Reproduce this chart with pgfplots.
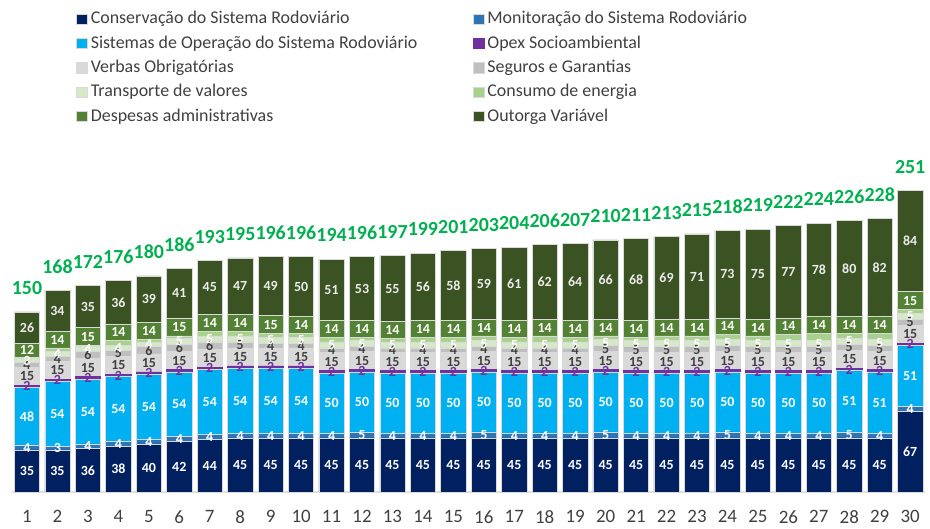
\documentclass[border=0pt]{standalone}
\usepackage{pgfplots}
\usepackage{pgfplotstable}
\pgfplotsset{compat=1.18}
\usepackage{fontspec}
\setmainfont{Carlito}

\definecolor{cCons}{HTML}{002060}
\definecolor{cMon}{HTML}{2E75B6}
\definecolor{cSist}{HTML}{00B0F0}
\definecolor{cOpex}{HTML}{7030A0}
\definecolor{cVerb}{HTML}{D9D9D9}
\definecolor{cSeg}{HTML}{BFBFBF}
\definecolor{cTrans}{HTML}{D5E8C8}
\definecolor{cEner}{HTML}{A9D18E}
\definecolor{cDesp}{HTML}{548235}
\definecolor{cOut}{HTML}{3B5323}
\definecolor{cTot}{HTML}{00B050}
\definecolor{cTxt}{HTML}{404040}

\pgfplotstableread{
x cons mon sist opex verb seg trans ener desp outo total
1  35 4 48 2 15 4 3 1 12 26 150
2  35 3 54 2 15 4 4 3 14 34 168
3  36 4 54 2 15 6 4 1 15 35 172
4  38 4 54 2 15 5 4 4 14 36 176
5  40 4 54 2 15 6 4 2 14 39 180
6  42 4 54 2 15 6 5 2 15 41 186
7  44 4 54 2 15 6 5 4 14 45 193
8  45 4 54 2 15 5 5 4 14 47 195
9  45 4 54 2 15 4 5 3 15 49 196
10 45 4 54 2 15 4 5 3 14 50 196
11 45 4 50 2 15 4 5 4 14 51 194
12 45 5 50 2 15 4 5 3 14 53 196
13 45 4 50 2 15 4 5 3 14 55 197
14 45 4 50 2 15 4 5 4 14 56 199
15 45 4 50 2 15 4 5 4 14 58 201
16 45 5 50 2 15 4 5 4 14 59 203
17 45 4 50 2 15 4 5 4 14 61 204
18 45 4 50 2 15 4 5 5 14 62 206
19 45 4 50 2 15 4 5 4 14 64 207
20 45 5 50 2 15 5 5 3 14 66 210
21 45 4 50 2 15 5 5 3 14 68 211
22 45 4 50 2 15 5 5 4 14 69 213
23 45 4 50 2 15 5 5 4 14 71 215
24 45 5 50 2 15 5 5 4 14 73 218
25 45 4 50 2 15 5 5 4 14 75 219
26 45 4 50 2 15 5 5 5 14 77 222
27 45 4 50 2 15 5 5 6 14 78 224
28 45 5 51 2 15 5 5 4 14 80 226
29 45 4 51 2 15 5 5 5 14 82 228
30 67 4 51 2 15 5 5 3 15 84 251
}\datatable

\pgfplotsset{
  common/.style={
    at={(11.8bp,37bp)}, anchor=south west,
    scale only axis, width=913.6bp, height=312bp,
    xmin=0.5, xmax=30.5, ymin=0, ymax=260,
    clip=false,
    /pgf/number format/assume math mode=true,
  },
  lab/.style={draw=none, mark=none, nodes near coords, point meta=explicit,
    every node near coord/.style={anchor=center, inner sep=0pt,
      font=\bfseries\fontsize{14}{14}\selectfont, text=#1}},
}

\begin{document}
\begin{tikzpicture}
\path[use as bounding box] (0,0) rectangle (930bp,529bp);
\begin{axis}[
  common,
  ybar stacked, bar width=25.3bp,
  axis x line*=bottom, axis y line=none,
  x axis line style={draw=black!12, line width=1.2bp},
  major tick length=0pt,
  xtick=data,
  xticklabel style={font=\fontsize{19}{19}\selectfont, text=cTxt, anchor=center, inner sep=0pt, yshift=-24.7bp},
  every axis plot/.append style={draw=white!85!black, line width=0.6bp},
  legend style={at={(0.0670,1.5487)}, anchor=north west, draw=none, fill=none,
    font=\fontsize{18}{18}\selectfont, text=cTxt,
    legend columns=2, row sep=7.3bp,
    /tikz/every odd column/.append style={column sep=3bp},
    nodes={inner sep=0bp, text height=13bp, text depth=4bp}},
  legend cell align=left,
  legend image code/.code={\fill[#1] (0bp,-5bp) rectangle (11bp,5.5bp);},
]
\addplot[fill=cCons] table[x=x,y=cons] {\datatable};
\addlegendentry{\makebox[382bp][l]{Conservação do Sistema Rodoviário}}
\addplot[fill=cMon] table[x=x,y=mon] {\datatable};
\addlegendentry{Monitoração do Sistema Rodoviário}
\addplot[fill=cSist] table[x=x,y=sist] {\datatable};
\addlegendentry{\makebox[382bp][l]{Sistemas de Operação do Sistema Rodoviário}}
\addplot[fill=cOpex, draw=cOpex] table[x=x,y=opex] {\datatable};
\addlegendentry{Opex Socioambiental}
\addplot[fill=cVerb] table[x=x,y=verb] {\datatable};
\addlegendentry{\makebox[382bp][l]{Verbas Obrigatórias}}
\addplot[fill=cSeg] table[x=x,y=seg] {\datatable};
\addlegendentry{Seguros e Garantias}
\addplot[fill=cTrans] table[x=x,y=trans] {\datatable};
\addlegendentry{\makebox[382bp][l]{Transporte de valores}}
\addplot[fill=cEner] table[x=x,y=ener] {\datatable};
\addlegendentry{Consumo de energia}
\addplot[fill=cDesp] table[x=x,y=desp] {\datatable};
\addlegendentry{\makebox[382bp][l]{Despesas administrativas}}
\addplot[fill=cOut] table[x=x,y=outo] {\datatable};
\addlegendentry{Outorga Variável}
\end{axis}
\begin{axis}[common, hide axis]
\addplot[lab=white] table[x=x, y expr=\thisrow{cons}/2, meta=cons] {\datatable};
\addplot[lab=white] table[x=x, y expr=\thisrow{cons}+\thisrow{mon}/2, meta=mon] {\datatable};
\addplot[lab=white] table[x=x, y expr=\thisrow{cons}+\thisrow{mon}+\thisrow{sist}/2, meta=sist] {\datatable};
\addplot[lab=cOpex] table[x=x, y expr=\thisrow{cons}+\thisrow{mon}+\thisrow{sist}+\thisrow{opex}/2, meta=opex] {\datatable};
\addplot[lab=cTxt] table[x=x, y expr=\thisrow{cons}+\thisrow{mon}+\thisrow{sist}+\thisrow{opex}+\thisrow{verb}/2, meta=verb] {\datatable};
\addplot[lab=cTxt] table[x=x, y expr=\thisrow{cons}+\thisrow{mon}+\thisrow{sist}+\thisrow{opex}+\thisrow{verb}+\thisrow{seg}/2, meta=seg] {\datatable};
\addplot[lab=white] table[x=x, y expr=\thisrow{cons}+\thisrow{mon}+\thisrow{sist}+\thisrow{opex}+\thisrow{verb}+\thisrow{seg}+\thisrow{trans}/2, meta=trans] {\datatable};
\addplot[lab=white] table[x=x, y expr=\thisrow{total}-\thisrow{outo}-\thisrow{desp}/2, meta=desp] {\datatable};
\addplot[lab=white!92!black] table[x=x, y expr=\thisrow{total}-\thisrow{outo}/2, meta=outo] {\datatable};
\addplot[draw=none, mark=none, nodes near coords, point meta=explicit,
  every node near coord/.style={anchor=south, yshift=17bp, inner sep=0pt,
    font=\bfseries\fontsize{20}{20}\selectfont, text=cTot}]
  table[x=x, y=total, meta=total] {\datatable};
\end{axis}
\end{tikzpicture}
\end{document}
